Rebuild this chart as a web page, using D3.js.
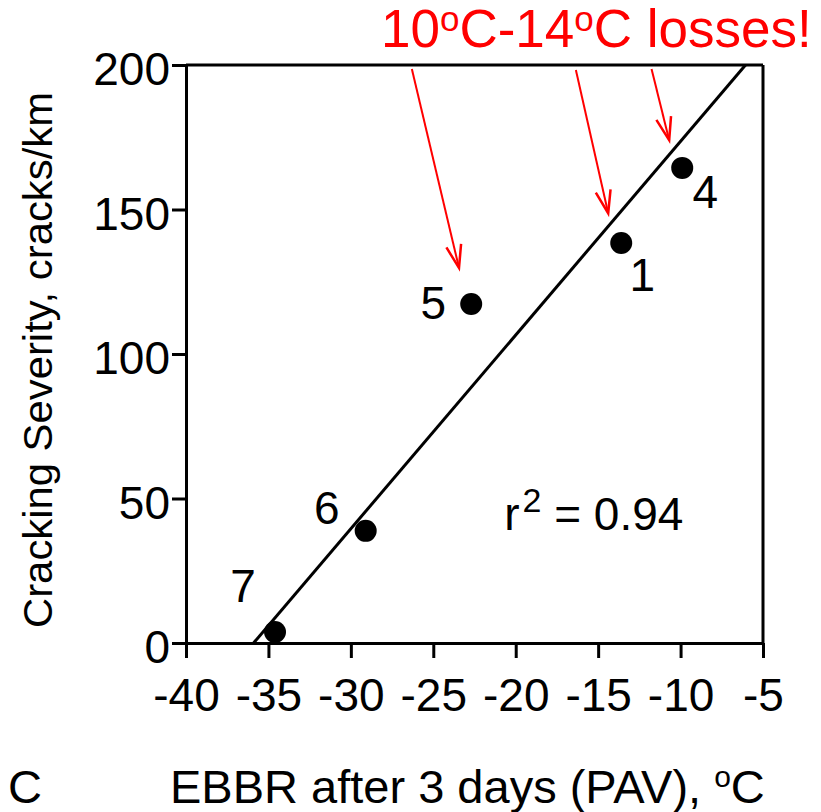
<!DOCTYPE html>
<html>
<head>
<meta charset="utf-8">
<script src="https://cdn.jsdelivr.net/npm/d3@7"></script>
<style>
  body { margin: 0; background: #fff; }
  svg { font-family: "Liberation Sans", Arial, sans-serif; }
</style>
</head>
<body>
<svg id="chart" width="821" height="812"></svg>
<script>
// data
const ebbr = [-34.6, -29.1, -22.7, -13.6, -9.9];
const cracks = [3.8, 38.8, 117.3, 138.4, 164.4];
const siteIds = ["7", "6", "5", "1", "4"];
const xTicks = [-40, -35, -30, -25, -20, -15, -10, -5];
const yTicks = [0, 50, 100, 150, 200];
// regression line ends
const fitX = [-35.9, -6.06];
const fitY = [0, 200];
// red arrows, start and end in data units
const arrowStart = [[-26.3, 198.6], [-16.35, 198.3], [-11.76, 198.6]];
const arrowEnd = [[-23.44, 129.8], [-14.39, 148.7], [-10.69, 174.0]];

// label offsets (px) for the site numbers
const labelDx = [-32, -39, -38, 21, 23];
const labelDy = [-30, -7, 15, 48, 40];

const svg = d3.select("#chart");
const plotLeft = 186, plotRight = 763, plotTop = 65, plotBottom = 643;

const x = d3.scaleLinear().domain([-40, -5]).range([plotLeft, plotRight]);
const y = d3.scaleLinear().domain([0, 200]).range([plotBottom, plotTop]);

// axes (plain hyphen for minus, like the original)
const xAxis = svg.append("g")
    .attr("transform", `translate(0,${plotBottom})`)
    .call(d3.axisBottom(x).tickValues(xTicks).tickFormat((d) => String(d))
        .tickSize(15).tickSizeOuter(0).tickPadding(20));
const yAxis = svg.append("g")
    .attr("transform", `translate(${plotLeft},0)`)
    .call(d3.axisLeft(y).tickValues(yTicks).tickFormat((d) => String(d))
        .tickSize(14).tickSizeOuter(0).tickPadding(2));

[xAxis, yAxis].forEach(function (a) {
    a.selectAll("path, line").attr("stroke", "#000").attr("stroke-width", 3);
    a.selectAll("text")
        .attr("fill", "#000")
        .style("font-size", "46px")
        .style("font-family", '"Liberation Sans", Arial, sans-serif');
});
yAxis.selectAll("text").attr("dy", "0.43em");

// top and right border
svg.append("line")
    .attr("x1", plotLeft).attr("x2", plotRight).attr("y1", plotTop).attr("y2", plotTop)
    .attr("stroke", "#000").attr("stroke-width", 3);
svg.append("line")
    .attr("x1", plotRight).attr("x2", plotRight).attr("y1", plotTop).attr("y2", plotBottom)
    .attr("stroke", "#000").attr("stroke-width", 3);

// fit line
svg.append("line")
    .attr("x1", x(fitX[0])).attr("y1", y(fitY[0]))
    .attr("x2", x(fitX[1])).attr("y2", y(fitY[1]))
    .attr("stroke", "#000").attr("stroke-width", 3);

// points
svg.selectAll(".pt")
    .data(ebbr)
    .enter()
    .append("circle")
    .attr("class", "pt")
    .attr("cx", (d) => x(d))
    .attr("cy", (d, i) => y(cracks[i]))
    .attr("r", 11)
    .attr("fill", "#000");

svg.selectAll(".lbl")
    .data(siteIds)
    .enter()
    .append("text")
    .attr("class", "lbl")
    .attr("x", (d, i) => x(ebbr[i]) + labelDx[i])
    .attr("y", (d, i) => y(cracks[i]) + labelDy[i])
    .attr("text-anchor", "middle")
    .style("font-size", "46px")
    .text((d) => d);

// red arrows
const red = "#ff0000";
arrowStart.forEach(function (s, i) {
    const e = arrowEnd[i];
    const x0 = x(s[0]), y0 = y(s[1]), x1 = x(e[0]), y1 = y(e[1]);
    svg.append("line")
        .attr("x1", x0).attr("y1", y0).attr("x2", x1).attr("y2", y1)
        .attr("stroke", red).attr("stroke-width", 2);
    const ang = Math.atan2(y1 - y0, x1 - x0);
    const len = 24, spread = 0.32;
    const wing = [ang + Math.PI - spread, ang + Math.PI + spread];
    svg.append("path")
        .attr("d", `M${x1 + len * Math.cos(wing[0])},${y1 + len * Math.sin(wing[0])}L${x1},${y1}L${x1 + len * Math.cos(wing[1])},${y1 + len * Math.sin(wing[1])}`)
        .attr("fill", "none")
        .attr("stroke", red).attr("stroke-width", 2.5);
});

// red title
const title = svg.append("text")
    .attr("x", 381).attr("y", 47)
    .attr("fill", red)
    .style("font-size", "53px");
title.append("tspan").text("10");
title.append("tspan").attr("dy", -16).style("font-size", "35px").text("o");
title.append("tspan").attr("dy", 16).text("C-14");
title.append("tspan").attr("dy", -16).style("font-size", "35px").text("o");
title.append("tspan").attr("dy", 16).text("C losses!");

// r squared
const rsq = svg.append("text")
    .attr("x", x(-20.7)).attr("y", y(39.1))
    .style("font-size", "46px");
rsq.append("tspan").text("r");
rsq.append("tspan").attr("dx", 3).attr("dy", -18).style("font-size", "34px").text("2");
rsq.append("tspan").attr("dy", 18).text(" = 0.94");

// axis titles
const xt = svg.append("text")
    .attr("x", 170).attr("y", 803)
    .style("font-size", "47px");
xt.append("tspan").text("EBBR after 3 days (PAV), ");
xt.append("tspan").attr("dy", -16).style("font-size", "30px").text("o");
xt.append("tspan").attr("dy", 16).text("C");

svg.append("text")
    .attr("transform", "translate(52,360) rotate(-90)")
    .attr("text-anchor", "middle")
    .attr("textLength", 536)
    .attr("lengthAdjust", "spacingAndGlyphs")
    .style("font-size", "40px")
    .text("Cracking Severity, cracks/km");

svg.append("text")
    .attr("x", 8).attr("y", 803)
    .style("font-size", "47px")
    .text("C");
</script>
</body>
</html>
